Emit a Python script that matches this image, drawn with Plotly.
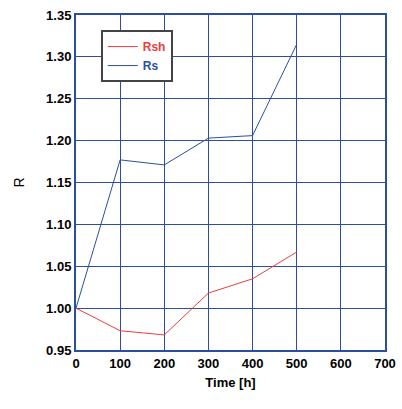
import plotly.graph_objects as go

time_h = [0, 100, 200, 300, 400, 500]
rsh = [1.000, 0.973, 0.968, 1.018, 1.035, 1.067]
rs = [1.000, 1.177, 1.171, 1.203, 1.206, 1.315]

x_ticks = [0, 100, 200, 300, 400, 500, 600, 700]
y_ticks = [0.95, 1.00, 1.05, 1.10, 1.15, 1.20, 1.25, 1.30, 1.35]

red = "#f03c3c"
blue = "#2b4f9e"
grid = "#2b4f9e"
font_family = "Liberation Sans, Arial, sans-serif"

fig = go.Figure()
fig.add_trace(go.Scatter(x=time_h, y=rsh, mode="lines",
                         name="<b><span style='color:%s'>Rsh</span></b>" % red,
                         line=dict(color=red, width=1)))
fig.add_trace(go.Scatter(x=time_h, y=rs, mode="lines",
                         name="<b><span style='color:%s'>Rs</span></b>" % blue,
                         line=dict(color=blue, width=1)))

tick_font = dict(family=font_family, size=13, color="black")

fig.update_layout(
    width=402, height=409,
    margin=dict(l=76, r=17, t=15, b=59),
    plot_bgcolor="white", paper_bgcolor="white",
    showlegend=True,
    legend=dict(x=0.08, y=0.955, xanchor="left", yanchor="top",
                bordercolor="#444444", borderwidth=2, bgcolor="white",
                font=dict(family=font_family, size=12),
                itemwidth=30, tracegroupgap=0),
    xaxis=dict(range=[0, 700], tickvals=x_ticks,
               ticktext=["<b>%d</b>" % v for v in x_ticks],
               showgrid=True, gridcolor=grid, gridwidth=1,
               showline=True, linecolor=grid, linewidth=2, mirror=True,
               ticks="", zeroline=False, tickfont=tick_font, automargin=False,
               ticklabeloverflow="allow",
               title=dict(text="<b>Time [h]</b>", font=dict(family=font_family, size=13, color="black"), standoff=8)),
    yaxis=dict(range=[0.95, 1.35], tickvals=y_ticks,
               ticktext=["<b>%.2f</b>" % v for v in y_ticks],
               showgrid=True, gridcolor=grid, gridwidth=1,
               showline=True, linecolor=grid, linewidth=2, mirror=True,
               ticks="", zeroline=False, tickfont=tick_font, automargin=False,
               ticklabeloverflow="allow",
               title=dict(text="R", font=dict(family=font_family, size=14, color="black"), standoff=18)),
)

fig.write_html("out.html")
